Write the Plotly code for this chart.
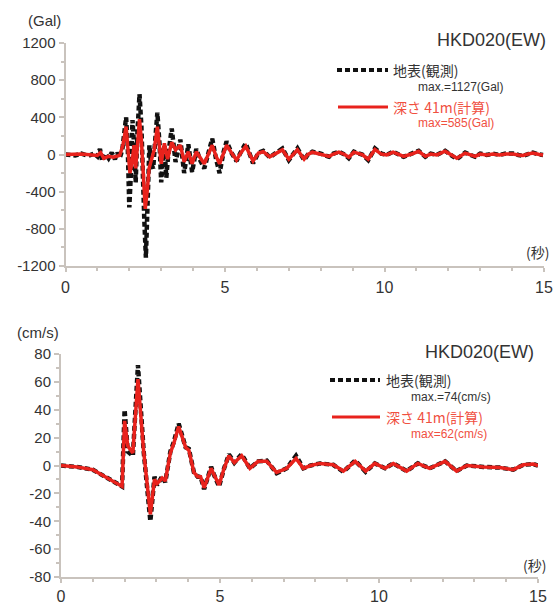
import plotly.graph_objects as go

# ---------------- data ----------------
# Acceleration (Gal) - observed at surface
acc_obs_t = [0.0, 0.3, 0.5, 0.7, 0.9, 1.0, 1.08, 1.15, 1.25, 1.35, 1.45, 1.55, 1.62, 1.7, 1.78, 1.83, 1.9, 1.95,
             2.0, 2.05, 2.1, 2.15, 2.2, 2.25, 2.32, 2.38, 2.42, 2.47, 2.52, 2.58, 2.63, 2.68, 2.75, 2.8, 2.88, 2.95,
             3.0, 3.06, 3.1, 3.16, 3.22, 3.33, 3.45, 3.6, 3.72, 3.85, 3.97, 4.1, 4.22, 4.35, 4.5, 4.6, 4.72, 4.83,
             4.95, 5.05, 5.2, 5.36, 5.5, 5.65, 5.78, 5.88, 6.05, 6.2, 6.4, 6.6, 6.8, 7.0, 7.15, 7.27, 7.48, 7.6,
             7.74, 8.0, 8.26, 8.4, 8.57, 8.75, 8.88, 9.04, 9.3, 9.49, 9.7, 9.9, 10.07, 10.27, 10.45, 10.6, 10.85,
             11.07, 11.28, 11.45, 11.64, 11.9, 12.1, 12.27, 12.53, 12.7, 12.84, 13.0, 13.2, 13.4, 13.6, 13.8,
             14.03, 14.2, 14.34, 14.5, 14.65, 14.85, 14.97]
acc_obs_v = [0, -10, 10, -15, 10, -20, 60, -70, 10, -40, 20, -50, 20, -40, 50, 200, 400, 100,
             -570, -200, 370, 100, -300, 200, 650, 300, -300, -700, -1110, -400, 100, -100, -150, 100, 450, 100,
             -300, 0, 100, -250, 0, 280, -80, 160, -200, 110, -190, 60, -60, -150, 40, 170, -50, -200,
             20, 140, 20, -70, 30, 120, 0, -95, 20, 40, -30, 20, 65, -60, 10, 65, -60, 0,
             30, 10, -25, 10, 30, 0, -40, 30, 0, -60, 65, 10, -5, 30, 0, -25, 10,
             40, -25, 10, -5, 40, -10, -50, 20, 0, -25, 10, -5, 10, -5, 10,
             10, -5, -15, 5, 20, 0, -5]

# Acceleration (Gal) - computed at depth 41 m
acc_calc_t = [0.0, 0.5, 1.0, 1.1, 1.2, 1.35, 1.5, 1.7, 1.8, 1.9, 1.96, 2.02, 2.08, 2.15, 2.2, 2.25, 2.32, 2.38,
              2.44, 2.5, 2.56, 2.62, 2.7, 2.78, 2.88, 2.95, 3.0, 3.1, 3.2, 3.33, 3.45, 3.6, 3.72, 3.85, 3.97, 4.1,
              4.22, 4.35, 4.5, 4.6, 4.72, 4.83, 4.95, 5.05, 5.2, 5.36, 5.5, 5.65, 5.78, 5.88, 6.05, 6.2, 6.4, 6.6,
              6.8, 7.0, 7.15, 7.27, 7.48, 7.6, 7.74, 8.0, 8.26, 8.4, 8.57, 8.75, 8.88, 9.04, 9.3, 9.49, 9.7, 9.9,
              10.07, 10.27, 10.45, 10.6, 10.85, 11.07, 11.28, 11.45, 11.64, 11.9, 12.1, 12.27, 12.53, 12.7, 12.84,
              13.0, 13.2, 13.4, 13.6, 13.8, 14.03, 14.2, 14.34, 14.5, 14.65, 14.85, 14.97]
acc_calc_v = [0, 5, -10, 20, -40, -20, -30, -10, 100, 300, 50, -200, -100, 100, -150, 100, 380, 150,
              -200, -585, -400, -150, -50, 50, 300, 100, -100, 120, -50, 130, 50, 100, -80, 30, -100, 30,
              -30, -100, 20, 100, -20, -100, 10, 100, 20, -60, 20, 90, 0, -70, 15, 30, -25, 15,
              50, -50, 5, 50, -50, 0, 25, 5, -20, 5, 25, 0, -30, 25, 0, -50, 55, 5,
              -5, 25, 0, -20, 5, 35, -20, 5, -5, 35, -5, -40, 15, 0, -20,
              5, -5, 5, -5, 5, 5, -5, -10, 5, 15, 0, -5]

# Velocity (cm/s) - observed at surface
vel_obs_t = [0.0, 0.5, 1.0, 1.3, 1.5, 1.8, 1.92, 2.0, 2.1, 2.26, 2.42, 2.6, 2.81, 2.94, 3.02, 3.18, 3.28, 3.44,
             3.55, 3.7, 3.92, 4.02, 4.18, 4.3, 4.39, 4.5, 4.72, 4.8, 4.97, 5.13, 5.28, 5.45, 5.68, 5.94, 6.2,
             6.47, 6.78, 7.1, 7.39, 7.62, 7.85, 8.14, 8.56, 8.88, 9.25, 9.58, 9.87, 10.19, 10.45, 10.87, 11.22,
             11.59, 12.08, 12.44, 12.76, 13.28, 13.8, 14.22, 14.54, 14.85, 15.0]
vel_obs_v = [0, -1, -3, -7, -10, -14, -15, 40, 10, 7, 72, 10, -40, -8, -14, -8, -12, 10,
             17, 30, 13, 12, -5, -8, -8, -17, -1, -6, -15, -2, 8, 2, 8, -2, 3,
             3.5, -5.5, -2, 7, -2, 0, 1.5, 0.5, -4.5, 3.5, -4.5, 1.5, -2, 1.5, -4, 1.5,
             -2, 3, -4, 0, -1, -1.5, -3, 0.5, 1, 0]

# Velocity (cm/s) - computed at depth 41 m
vel_calc_t = [0.0, 0.5, 1.0, 1.3, 1.5, 1.8, 1.92, 2.0, 2.1, 2.26, 2.42, 2.6, 2.81, 2.94, 3.02, 3.18, 3.28, 3.44,
              3.55, 3.7, 3.92, 4.02, 4.18, 4.3, 4.39, 4.5, 4.72, 4.8, 4.97, 5.13, 5.28, 5.45, 5.68, 5.94, 6.2,
              6.47, 6.78, 7.1, 7.39, 7.62, 7.85, 8.14, 8.56, 8.88, 9.25, 9.58, 9.87, 10.19, 10.45, 10.87, 11.22,
              11.59, 12.08, 12.44, 12.76, 13.28, 13.8, 14.22, 14.54, 14.85, 15.0]
vel_calc_v = [0, -1, -3, -7, -10, -14, -15, 32, 14, 9, 62, 10, -35, -10, -13, -9, -11, 9,
              16, 28, 13, 11, -5, -8, -8, -16, -2, -6, -14, -2, 7, 2, 7, -2, 3,
              3, -5, -2, 5, -2, 0, 1.5, 0.5, -4, 3, -4, 1.5, -2, 1.5, -4, 1.5,
              -2, 3, -4, 0, -1, -1.5, -3, 0.5, 1, 0]

x_ticks = [0, 5, 10, 15]
acc_ticks = [-1200, -800, -400, 0, 400, 800, 1200]
acc_tick_labels = ["-1200", "-800", "-400", "0", "400", "800", "1200"]
vel_ticks = [-80, -60, -40, -20, 0, 20, 40, 60, 80]
vel_tick_labels = ["-80", "-60", "-40", "-20", "0", "20", "40", "60", "80"]

station = "HKD020(EW)"
obs_label = "地表(観測)"
calc_label = "深さ 41m(計算)"
acc_obs_max = "max.=1127(Gal)"
acc_calc_max = "max=585(Gal)"
vel_obs_max = "max.=74(cm/s)"
vel_calc_max = "max=62(cm/s)"

# ---------------- figure ----------------
W, H = 559, 605
def px(x):
    return x / W
def py(y):
    return 1 - y / H

BLACK = "#111111"
RED = "#e8221c"
RED_TXT = "#f0503f"
AXIS = "#c9c3bd"
TXT = "#333333"
FONT = "Liberation Sans, Arial, Noto Sans CJK JP, sans-serif"
JFONT = "Noto Sans CJK JP, Liberation Sans, sans-serif"

fig = go.Figure()
dash = "5px,3px"
fig.add_trace(go.Scatter(x=acc_obs_t, y=acc_obs_v, mode="lines", line=dict(color=BLACK, width=4.5, dash=dash),
                         xaxis="x", yaxis="y", showlegend=False))
fig.add_trace(go.Scatter(x=acc_calc_t, y=acc_calc_v, mode="lines", line=dict(color=RED, width=3.5),
                         xaxis="x", yaxis="y", showlegend=False))
fig.add_trace(go.Scatter(x=vel_obs_t, y=vel_obs_v, mode="lines", line=dict(color=BLACK, width=4.5, dash=dash),
                         xaxis="x2", yaxis="y2", showlegend=False))
fig.add_trace(go.Scatter(x=vel_calc_t, y=vel_calc_v, mode="lines", line=dict(color=RED, width=3.5),
                         xaxis="x2", yaxis="y2", showlegend=False))

def xaxis_style(standoff):
    return dict(range=[0, 15], tickvals=x_ticks, showgrid=False, zeroline=False, showline=True, automargin=False,
                linecolor=AXIS, linewidth=2, ticks="outside", ticklen=4, tickcolor=AXIS, tickwidth=1.5,
                tickfont=dict(family=FONT, size=16, color=TXT), ticklabelstandoff=standoff,
                minor=dict(dtick=1, ticks="outside", ticklen=3, tickcolor=AXIS, tickwidth=1.5, showgrid=False))
common_y = dict(showgrid=False, zeroline=False, showline=True, linecolor=AXIS, linewidth=2, automargin=False,
                ticks="outside", ticklen=5, tickcolor=AXIS, tickwidth=1.5,
                tickfont=dict(family=FONT, size=15, color=TXT))

fig.update_layout(
    width=W, height=H, margin=dict(l=0, r=0, t=0, b=0, autoexpand=False),
    paper_bgcolor="white", plot_bgcolor="white",
    xaxis=dict(domain=[px(65.5), px(544)], anchor="y", **xaxis_style(2)),
    yaxis=dict(domain=[py(266), py(43)], anchor="x", range=[-1200, 1200],
               tickvals=acc_ticks, ticktext=acc_tick_labels,
               minor=dict(dtick=200, ticks="outside", ticklen=3, tickcolor=AXIS, tickwidth=1.5, showgrid=False),
               **common_y),
    xaxis2=dict(domain=[px(61), px(538)], anchor="y2", **xaxis_style(0)),
    yaxis2=dict(domain=[py(577), py(354)], anchor="x2", range=[-80, 80],
                tickvals=vel_ticks, ticktext=vel_tick_labels,
                minor=dict(dtick=10, ticks="outside", ticklen=3, tickcolor=AXIS, tickwidth=1.5, showgrid=False),
                **common_y),
)

ann = []
def txt(x, y, s, size, color=TXT, anchor="left", fam=FONT):
    ann.append(dict(x=px(x), y=py(y), xref="paper", yref="paper", text=s, showarrow=False,
                    xanchor=anchor, yanchor="middle", font=dict(family=fam, size=size, color=color)))

# top panel texts
txt(63, 20, "(Gal)", 15, anchor="right")
txt(548, 40, station, 18, anchor="right")
txt(551, 252, "(秒)", 14, anchor="right", fam=JFONT)
txt(391, 70, obs_label, 14, TXT, fam=JFONT)
txt(416, 87, acc_obs_max, 12, TXT)
txt(391, 107, calc_label, 14, RED_TXT, fam=JFONT)
txt(416, 123, acc_calc_max, 12, RED_TXT)
# bottom panel texts
txt(61, 332, "(cm/s)", 15, anchor="right")
txt(536, 352, station, 18, anchor="right")
txt(548, 565, "(秒)", 14, anchor="right", fam=JFONT)
txt(384, 380, obs_label, 14, TXT, fam=JFONT)
txt(409, 397, vel_obs_max, 12, TXT)
txt(384, 417, calc_label, 14, RED_TXT, fam=JFONT)
txt(409, 434, vel_calc_max, 12, RED_TXT)
fig.update_layout(annotations=ann)

shapes = []
def seg(x0, x1, y, color, d):
    shapes.append(dict(type="line", xref="paper", yref="paper", x0=px(x0), x1=px(x1), y0=py(y), y1=py(y),
                       line=dict(color=color, width=4 if d else 3, dash=d if d else "solid")))
seg(337, 388, 70, BLACK, dash)
seg(338, 388, 107, RED, None)
seg(330, 380, 380, BLACK, dash)
seg(332, 380, 417, RED, None)
fig.update_layout(shapes=shapes)

fig.write_html("out.html", config={"displayModeBar": False},
               post_script="document.body.style.margin='0';document.body.style.overflow='hidden';")
